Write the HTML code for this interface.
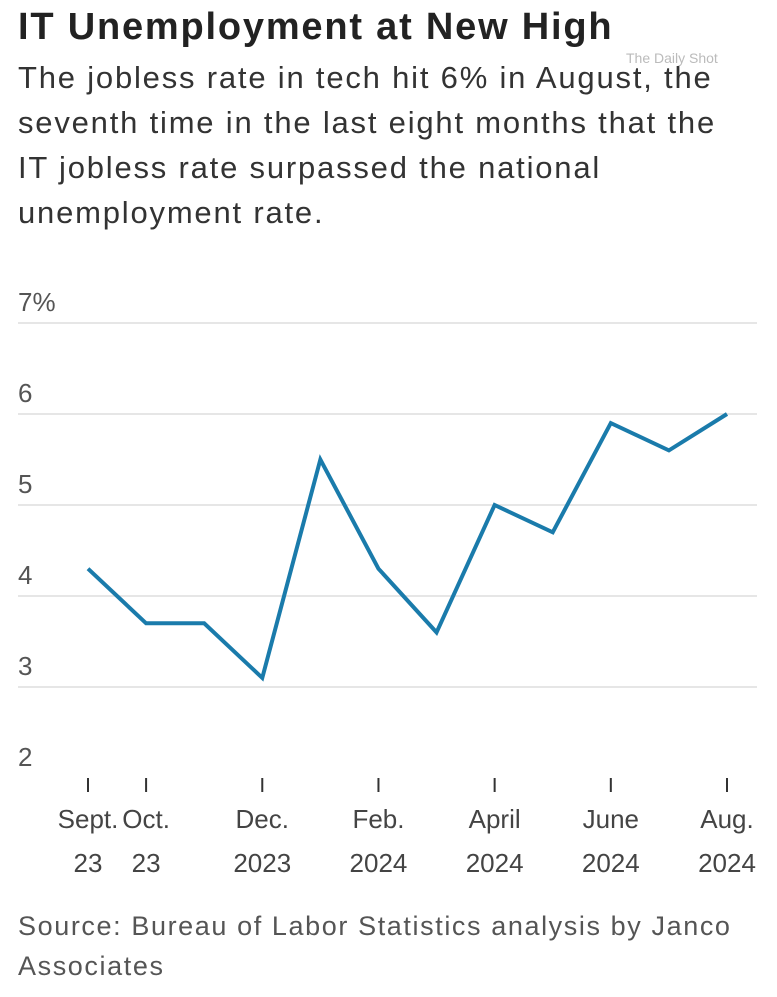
<!DOCTYPE html>
<html><head><meta charset="utf-8"><style>
body{margin:0;background:#fff;width:777px;height:997px;overflow:hidden;font-family:"Liberation Sans",sans-serif;color:#333}
#title{position:absolute;left:18px;top:6px;font-size:38px;letter-spacing:1.8px;font-weight:bold;color:#222;margin:0;white-space:nowrap}
#sub{position:absolute;left:18px;top:55px;font-size:31px;letter-spacing:1.8px;line-height:45px;color:#333;white-space:nowrap}
#wm{position:absolute;left:626px;top:50px;font-size:14px;color:#bbb}
#src{position:absolute;left:18px;top:906px;font-size:27px;letter-spacing:1.6px;line-height:40px;color:#555;white-space:nowrap}
svg{position:absolute;left:0;top:0}
</style></head><body>
<h1 id="title">IT Unemployment at New High</h1>
<div id="sub">The jobless rate in tech hit 6% in August, the<br>seventh time in the last eight months that the<br>IT jobless rate surpassed the national<br>unemployment rate.</div>
<div id="wm">The Daily Shot</div>
<svg id="chart" width="777" height="997"></svg>
<div id="src">Source: Bureau of Labor Statistics analysis by Janco<br>Associates</div>
<script>
const months=["Sep23","Oct23","Nov23","Dec23","Jan24","Feb24","Mar24","Apr24","May24","Jun24","Jul24","Aug24"];
const rates=[4.3,3.7,3.7,3.1,5.5,4.3,3.6,5.0,4.7,5.9,5.6,6.0];
const yTicks=[2,3,4,5,6,7];
const yTickLabels=["2","3","4","5","6","7%"];
const xTickIdx=[0,1,3,5,7,9,11];
const xTickL1=["Sept.","Oct.","Dec.","Feb.","April","June","Aug."];
const xTickL2=["23","23","2023","2024","2024","2024","2024"];
const NS="http://www.w3.org/2000/svg";
const svg=document.getElementById('chart');
const y=v=>778-(v-2)*91;
const x=i=>88+i*(727-88)/11;
function mk(t,a){const e=document.createElementNS(NS,t);for(const k in a)e.setAttribute(k,a[k]);svg.appendChild(e);return e;}
yTicks.forEach((v,i)=>{
  if(v>2){const g=mk('line',{x1:18,x2:757,y1:y(v),y2:y(v),stroke:'#ddd','stroke-width':1.5});
  
  }
  const t=mk('text',{x:18,y:y(v)-12,'font-size':26,fill:'#555','font-family':'Liberation Sans, sans-serif'});
  t.textContent=yTickLabels[i];
  
  
});
xTickIdx.forEach((idx,i)=>{
  const tk=mk('line',{x1:x(idx),x2:x(idx),y1:778,y2:792,stroke:'#333','stroke-width':2});
  
  
  [xTickL1[i],xTickL2[i]].forEach((s,j)=>{
    const t=mk('text',{x:x(idx),y:828+j*44,'font-size':26,fill:'#444','text-anchor':'middle','font-family':'Liberation Sans, sans-serif'});
    t.textContent=s;
    
    
  });
});
const p=mk('polyline',{points:rates.map((v,i)=>x(i)+','+y(v)).join(' '),fill:'none',stroke:'#1a7bab','stroke-width':4,'stroke-linejoin':'miter'});


</script>
</body></html>
